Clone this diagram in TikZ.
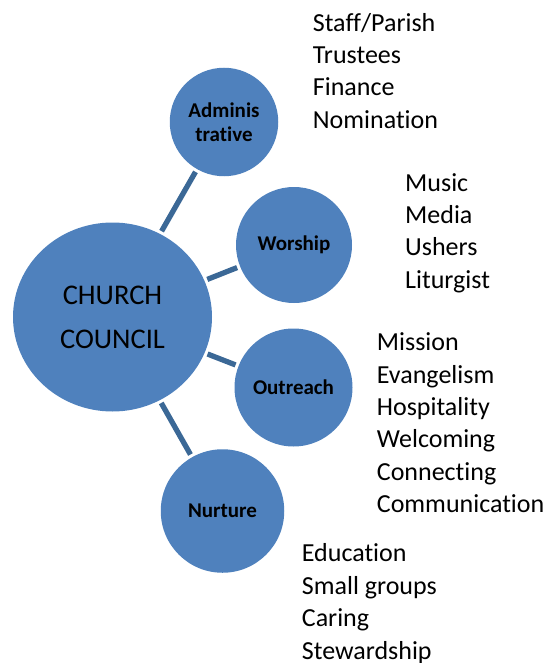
\documentclass[tikz,border=0pt]{standalone}
\usepackage{fontspec}
\setmainfont{Carlito}[Ligatures=NoCommon]
\usetikzlibrary{shapes.geometric, positioning}
\definecolor{councilblue}{RGB}{79,129,189}
\definecolor{linkblue}{RGB}{59,104,150}

\begin{document}
\begin{tikzpicture}[
  x=1pt, y=-1pt,
  hub/.style={ellipse, fill=councilblue, minimum width=199pt, minimum height=189pt,
              inner sep=0pt, align=center, font=\fontsize{28.5}{44}\selectfont},
  group/.style={circle, fill=councilblue, inner sep=0pt, align=center,
                font=\fontsize{21}{24.5}\selectfont\bfseries},
  link/.style={draw=linkblue, line width=5.3pt, shorten <=3pt, shorten >=3pt},
  duties/.style={anchor=base west, align=left, inner sep=0pt,
                 font=\fontsize{26}{32.4}\selectfont},
]
  \useasboundingbox (0,0) rectangle (553,663);

  % Council and its four groups
  \node[hub] (council) at (112.5,317) {CHURCH\\COUNCIL};
  \node[group, minimum size=108.5pt] (admin)    at (224,122)     {Adminis\\trative};
  \node[group, minimum size=116pt]   (worship)  at (294,245)     {Worship};
  \node[group, minimum size=118pt]   (outreach) at (293.5,387.5) {Outreach};
  \node[group, minimum size=123.5pt] (nurture)  at (222.5,511)   {Nurture};

  % Links
  \draw[link] (council) -- (admin);
  \draw[link] (council) -- (worship);
  \draw[link] (council) -- (outreach);
  \draw[link] (council) -- (nurture);

  % Lists of committees (placed by the baseline of their last line)
  \node[duties] (adminlist) at (312.7,128.3)
    {Staff/Parish\\Trustees\\Finance\\Nomination};
  \node[duties] (worshiplist) at (405,288.3)
    {Music\\Media\\Ushers\\Liturgist};
  \node[duties] (outreachlist) at (376.7,512.7)
    {Mission\\Evangelism\\Hospitality\\Welcoming\\Connecting\\Communication};
  \node[duties] (nurturelist) at (301.7,659)
    {Education\\Small groups\\Caring\\Stewardship};

\end{tikzpicture}
\end{document}
